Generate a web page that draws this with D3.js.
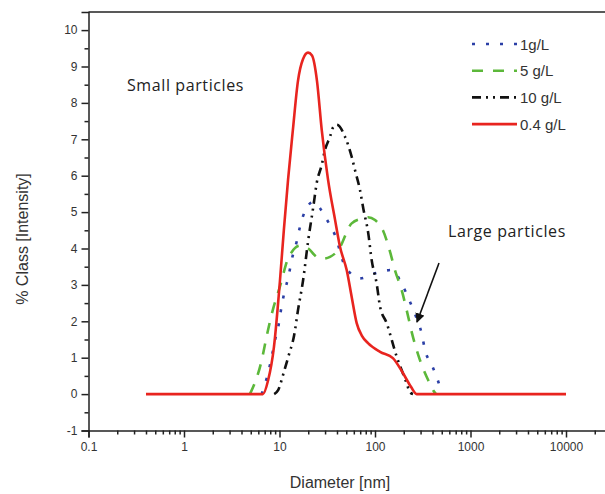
<!DOCTYPE html>
<html>
<head>
<meta charset="utf-8">
<script src="https://cdn.jsdelivr.net/npm/d3@7"></script>
<style>
body { margin: 0; background: #fff; }
svg { display: block; }
</style>
</head>
<body>
<script>
// diameter (nm) and % class values, one pair of arrays per sample
let d04 = [0.4, 6.7, 7.6, 8.75, 10.1, 11.1, 12.3, 13.8, 15.6, 17.6, 19.9, 21.9, 24.7, 27.7, 32.2, 38.1, 43, 50.6, 57, 64.3, 73, 84.5, 113, 154, 196, 238, 273, 10000];
let v04 = [0, 0, 0.38, 1.3, 3.1, 4.5, 5.9, 7.25, 8.6, 9.2, 9.38, 9.3, 8.6, 7.25, 5.9, 4.8, 4.05, 3.4, 2.67, 1.95, 1.6, 1.4, 1.16, 0.99, 0.58, 0.2, 0, 0];

let d1 = [6.5, 7.6, 8.28, 8.97, 9.71, 10.5, 11.4, 12.4, 13.4, 15.1, 16.4, 18.5, 22.4, 31.2, 38.1, 48.5, 69.7, 100, 150, 190, 232, 273, 308, 334, 393, 460, 503];
let v1 = [0, 0.58, 1.02, 1.48, 1.85, 2.4, 2.86, 3.22, 3.68, 4.18, 4.6, 5.03, 5.27, 4.8, 4.37, 3.52, 3.18, 3.32, 3.41, 3.04, 2.54, 2.08, 1.67, 1.21, 0.8, 0.34, 0];

let d5 = [4.9, 6.51, 7.35, 8.49, 10.1, 12.4, 13.4, 16.4, 20, 24.5, 28.5, 33.8, 41.3, 57, 75.4, 84.5, 100, 121, 144, 162, 190, 215, 242, 284, 361, 408, 435];
let v5 = [0, 0.93, 1.6, 2.3, 2.95, 3.75, 3.9, 4.08, 4.0, 3.77, 3.72, 3.77, 3.96, 4.69, 4.83, 4.86, 4.78, 4.5, 3.9, 3.4, 2.86, 2.3, 1.71, 1.07, 0.38, 0.1, 0];

let d10 = [8.8, 9.64, 11.1, 12.6, 14.2, 15.6, 17.6, 20, 22.6, 24.5, 27.7, 29.9, 33.8, 36.6, 40, 48.5, 57, 61.8, 69.7, 75.4, 85.1, 92.3, 104, 113, 133, 150, 169, 190, 215, 232, 250];
let v10 = [0, 0.1, 0.6, 1.1, 1.6, 2.3, 3.1, 4.23, 5.15, 5.79, 6.3, 6.7, 7.07, 7.34, 7.4, 7.07, 6.52, 6.15, 5.6, 5.1, 4.41, 3.68, 3.04, 2.4, 1.94, 1.48, 1.02, 0.66, 0.29, 0.05, 0];

let seriesNames = ["1g/L", "5 g/L", "10 g/L", "0.4 g/L"];

// tick labels
let xTicks = [0.1, 1, 10, 100, 1000, 10000];
let yTicks = [-1, 0, 1, 2, 3, 4, 5, 6, 7, 8, 9, 10];

let width = 605, height = 494;

let svg = d3.select("body").append("svg")
    .attr("width", width)
    .attr("height", height);

// log x scale, a decade is about 95 px; the axis runs past the right edge
let xScale = d3.scaleLog().domain([0.1, 100000]).range([88.5, 88.5 + 6 * 95.5]);
let yScale = d3.scaleLinear().domain([-1, 10.5]).range([430.5, 430.5 - 11.5 * 36.4]);

// minor ticks
let xMinor = [];
xTicks.forEach(function(t) {
    for (let k = 2; k <= 9; k++) xMinor.push(t * k);
});
let yMinor = yTicks.map(function(t) { return t + 0.5; }).filter(function(t) { return t < 10.5; });

let axisColor = "#222";
let labelFont = "Liberation Sans, Arial, sans-serif";

// x axis
svg.append("g")
    .attr("transform", "translate(0," + yScale(-1) + ")")
    .call(d3.axisBottom(xScale).tickValues(xTicks).tickSize(7).tickPadding(5)
        .tickFormat(function(d) { return String(d); }));
svg.append("g")
    .attr("transform", "translate(0," + yScale(-1) + ")")
    .call(d3.axisBottom(xScale).tickValues(xMinor).tickSize(4).tickFormat(""))
    .select(".domain").remove();

// y axis
svg.append("g")
    .attr("transform", "translate(" + xScale(0.1) + ",0)")
    .call(d3.axisLeft(yScale).tickValues(yTicks).tickSize(7).tickPadding(4)
        .tickFormat(function(d) { return String(d); }));
svg.append("g")
    .attr("transform", "translate(" + xScale(0.1) + ",0)")
    .call(d3.axisLeft(yScale).tickValues(yMinor).tickSize(4).tickFormat(""))
    .select(".domain").remove();

svg.selectAll(".domain, .tick line")
    .attr("stroke", axisColor)
    .attr("stroke-width", 1.5);
svg.selectAll(".tick text")
    .attr("fill", "#333")
    .style("font-family", labelFont)
    .style("font-size", "12px");

// top frame line
svg.append("line")
    .attr("x1", xScale(0.1)).attr("x2", width)
    .attr("y1", yScale(10.5)).attr("y2", yScale(10.5))
    .attr("stroke", axisColor)
    .attr("stroke-width", 1.5);

// axis titles
svg.append("text")
    .attr("transform", "translate(28," + 239 + ") rotate(-90)")
    .attr("text-anchor", "middle")
    .attr("fill", "#333")
    .style("font-family", labelFont)
    .style("font-size", "16px")
    .text("% Class [Intensity]");

svg.append("text")
    .attr("x", 340)
    .attr("y", 488)
    .attr("text-anchor", "middle")
    .attr("fill", "#333")
    .style("font-family", labelFont)
    .style("font-size", "16px")
    .text("Diameter [nm]");

// series
let series = [
    {name: seriesNames[0], d: d1, v: v1, color: "#2b3fa6", dash: "3,11"},
    {name: seriesNames[1], d: d5, v: v5, color: "#5cb83a", dash: "11,10"},
    {name: seriesNames[2], d: d10, v: v10, color: "#111", dash: "9,5,2,5,2,5"},
    {name: seriesNames[3], d: d04, v: v04, color: "#e8241f", dash: null}
];

let line = d3.line()
    .x(function(p) { return xScale(p[0]); })
    .y(function(p) { return yScale(p[1]); })
    .curve(d3.curveMonotoneX);

series.forEach(function(s) {
    let pts = s.d.map(function(dd, i) { return [dd, s.v[i]]; });
    svg.append("path")
        .datum(pts)
        .attr("fill", "none")
        .attr("stroke", s.color)
        .attr("stroke-width", 2.6)
        .attr("stroke-dasharray", s.dash)
        .attr("d", line);
});

// legend
let legend = svg.append("g").attr("transform", "translate(472,44)");
series.forEach(function(s, i) {
    let row = legend.append("g").attr("transform", "translate(0," + (i * 26.7) + ")");
    row.append("line")
        .attr("x1", 0).attr("x2", 45)
        .attr("y1", 0).attr("y2", 0)
        .attr("stroke", s.color)
        .attr("stroke-width", 2.6)
        .attr("stroke-dasharray", s.dash);
    row.append("text")
        .attr("x", 48)
        .attr("y", 5.5)
        .attr("fill", "#333")
        .style("font-family", labelFont)
        .style("font-size", "15px")
        .text(s.name);
});

// annotations
let noteFont = "Open Sans, Lato, sans-serif";
svg.append("text")
    .attr("x", 127)
    .attr("y", 91)
    .attr("fill", "#222")
    .style("font-family", noteFont)
    .style("font-size", "16px")
    .style("letter-spacing", "0.6px")
    .text("Small particles");

svg.append("text")
    .attr("x", 448)
    .attr("y", 237)
    .attr("fill", "#222")
    .style("font-family", noteFont)
    .style("font-size", "16px")
    .style("letter-spacing", "0.6px")
    .text("Large particles");

svg.append("defs").append("marker")
    .attr("id", "arrow")
    .attr("viewBox", "0 0 10 10")
    .attr("refX", 9).attr("refY", 5)
    .attr("markerWidth", 6).attr("markerHeight", 6)
    .attr("orient", "auto")
  .append("path")
    .attr("d", "M0,0 L10,5 L0,10 z")
    .attr("fill", "#111");

svg.append("line")
    .attr("x1", 439).attr("y1", 263)
    .attr("x2", 417).attr("y2", 322)
    .attr("stroke", "#111")
    .attr("stroke-width", 1.6)
    .attr("marker-end", "url(#arrow)");
</script>
</body>
</html>
